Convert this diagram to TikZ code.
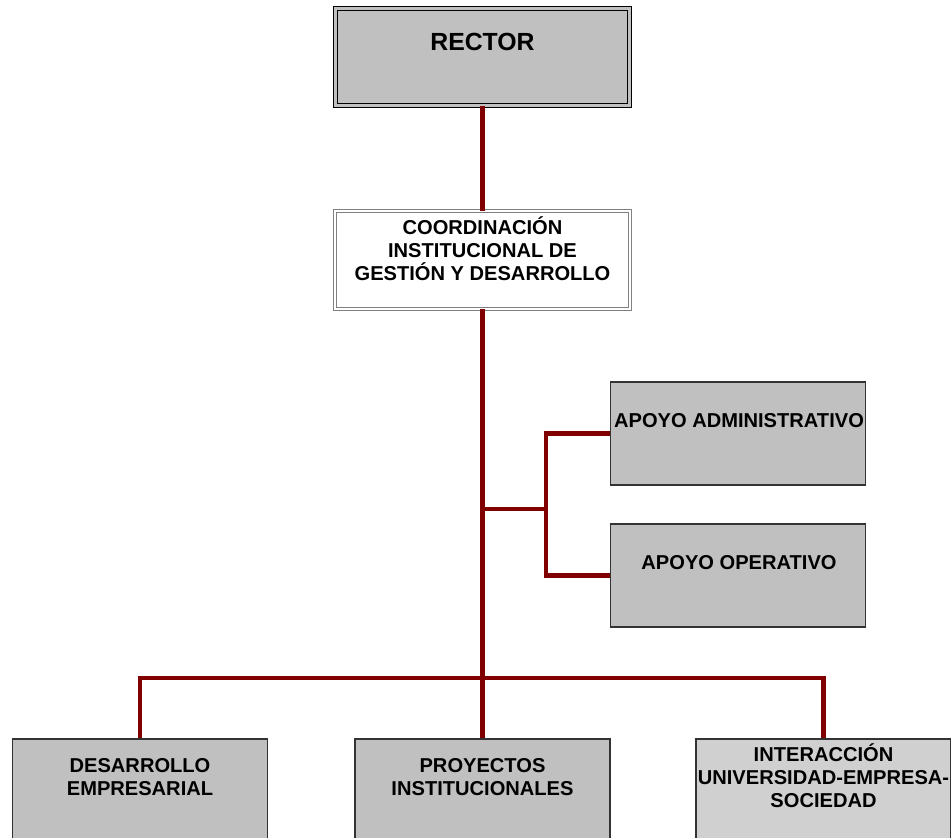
\documentclass[tikz,border=0pt]{standalone}
\usepackage{fontspec}
\setmainfont{Liberation Sans}
\definecolor{boxgray}{RGB}{192,192,192}
\definecolor{boxlight}{RGB}{208,208,208}
\definecolor{boxedge}{RGB}{51,51,51}
\definecolor{linkred}{RGB}{128,0,0}
\begin{document}
\begin{tikzpicture}[x=1pt,y=-1pt,
  unitbox/.style={draw=boxedge, line width=1.2pt, fill=boxgray, inner sep=0pt,
    minimum width=255pt, minimum height=103pt},
  headbox/.style={draw=black, line width=1.2pt, double=boxgray, double distance=2.6pt,
    fill=boxgray, inner sep=0pt, minimum width=294pt, minimum height=97pt},
  coordbox/.style={draw=gray, line width=0.8pt, double=white, double distance=2.4pt,
    fill=white, inner sep=0pt, minimum width=295pt, minimum height=98pt},
  caption/.style={font=\bfseries\fontsize{20.1}{23}\selectfont, align=center, inner sep=0pt},
  link/.style={draw=linkred, line width=4.6pt}
]
\useasboundingbox (0,0) rectangle (951,838);
\clip (0,0) rectangle (951,838);
\fill[white] (0,0) rectangle (951,838);

% boxes
\node[headbox]  (rector) at (482.5,57)  {};
\node[coordbox] (coord)  at (482.5,260) {};
\node[unitbox]  (adm)    at (738,433.5) {};
\node[unitbox]  (op)     at (738,575.5) {};
\node[unitbox]  (des)    at (140,790.5) {};
\node[unitbox]  (proy)   at (482.5,790.5) {};
\node[unitbox, fill=boxlight] (inter) at (823.5,790.5) {};

% captions
\node[caption, font=\bfseries\fontsize{24.8}{28}\selectfont] (trector) at (482.5,42) {RECTOR};
\node[caption] (tcoord) at (482.5,248.5) {COORDINACIÓN\\INSTITUCIONAL DE\\GESTIÓN Y DESARROLLO};
\node[caption] (tadm)   at (739,421) {APOYO ADMINISTRATIVO};
\node[caption] (top)    at (739,563) {APOYO OPERATIVO};
\node[caption] (tdes)   at (140,777.5) {DESARROLLO\\EMPRESARIAL};
\node[caption] (tproy)  at (482.5,777.5) {PROYECTOS\\INSTITUCIONALES};
\node[caption] (tinter) at (823.5,776) {INTERACCIÓN\\UNIVERSIDAD-EMPRESA-\\SOCIEDAD};

% junction points
\coordinate (fork)  at (482.5,509);
\coordinate (split) at (546,509);
\coordinate (bus)   at (482.5,678);

% connectors
\draw[link] (rector.south) -- (coord.north);
\draw[link] (coord.south) -- (proy.north);
\draw[link] (fork) -- (split);
\draw[link] (adm.west) -| (split) |- (op.west);
\draw[link] (des.north) |- (bus) -| (inter.north);
\end{tikzpicture}
\end{document}
